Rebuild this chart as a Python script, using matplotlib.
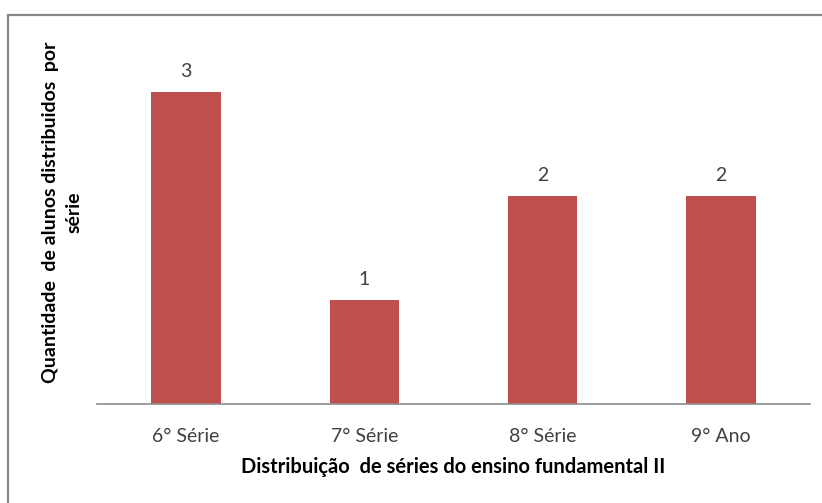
import matplotlib.pyplot as plt
from matplotlib.patches import Rectangle

series = ['6° Série', '7° Série', '8° Série', '9° Ano']
alunos = [3, 1, 2, 2]

plt.rcParams['font.family'] = ['Lato', 'DejaVu Sans']

fig = plt.figure(figsize=(8.22, 5.03), dpi=100)
ax = fig.add_axes([97 / 822, 99 / 503, 713 / 822, 364 / 503])

x = range(len(series))
bars = ax.bar(x, alunos, width=0.39, color='#C0504D')
for b, v in zip(bars, alunos):
    ax.text(b.get_x() + b.get_width() / 2, v + 0.12, str(v),
            ha='center', va='bottom', fontsize=14, color='#404040')

ax.set_xlim(-0.5, len(series) - 0.5)
ax.set_ylim(0, 3.5)
ax.set_xticks(list(x))
ax.set_xticklabels(series, fontsize=14, color='#404040')
ax.tick_params(axis='x', length=0, pad=17)
ax.set_yticks([])
for s in ['top', 'right', 'left']:
    ax.spines[s].set_visible(False)
ax.spines['bottom'].set_color('#8c8c8c')
ax.spines['bottom'].set_linewidth(1.2)

ax.set_xlabel('Distribuição  de séries do ensino fundamental II',
              fontsize=14.5, fontweight='bold', labelpad=9)
fig.text(62 / 822, 1 - 212 / 503,
         'Quantidade  de alunos distribuidos  por\nsérie',
         rotation=90, ha='center', va='center', fontsize=14,
         fontweight='bold', linespacing=1.45)

# outer chart border (only top and left edges fall inside the image)
fig.patches.append(Rectangle((8 / 822, -0.1), 1.2, 1.1 - 15 / 503,
                             transform=fig.transFigure, fill=False,
                             edgecolor='#868686', linewidth=1.6))

fig.savefig('out.png', dpi=100)
